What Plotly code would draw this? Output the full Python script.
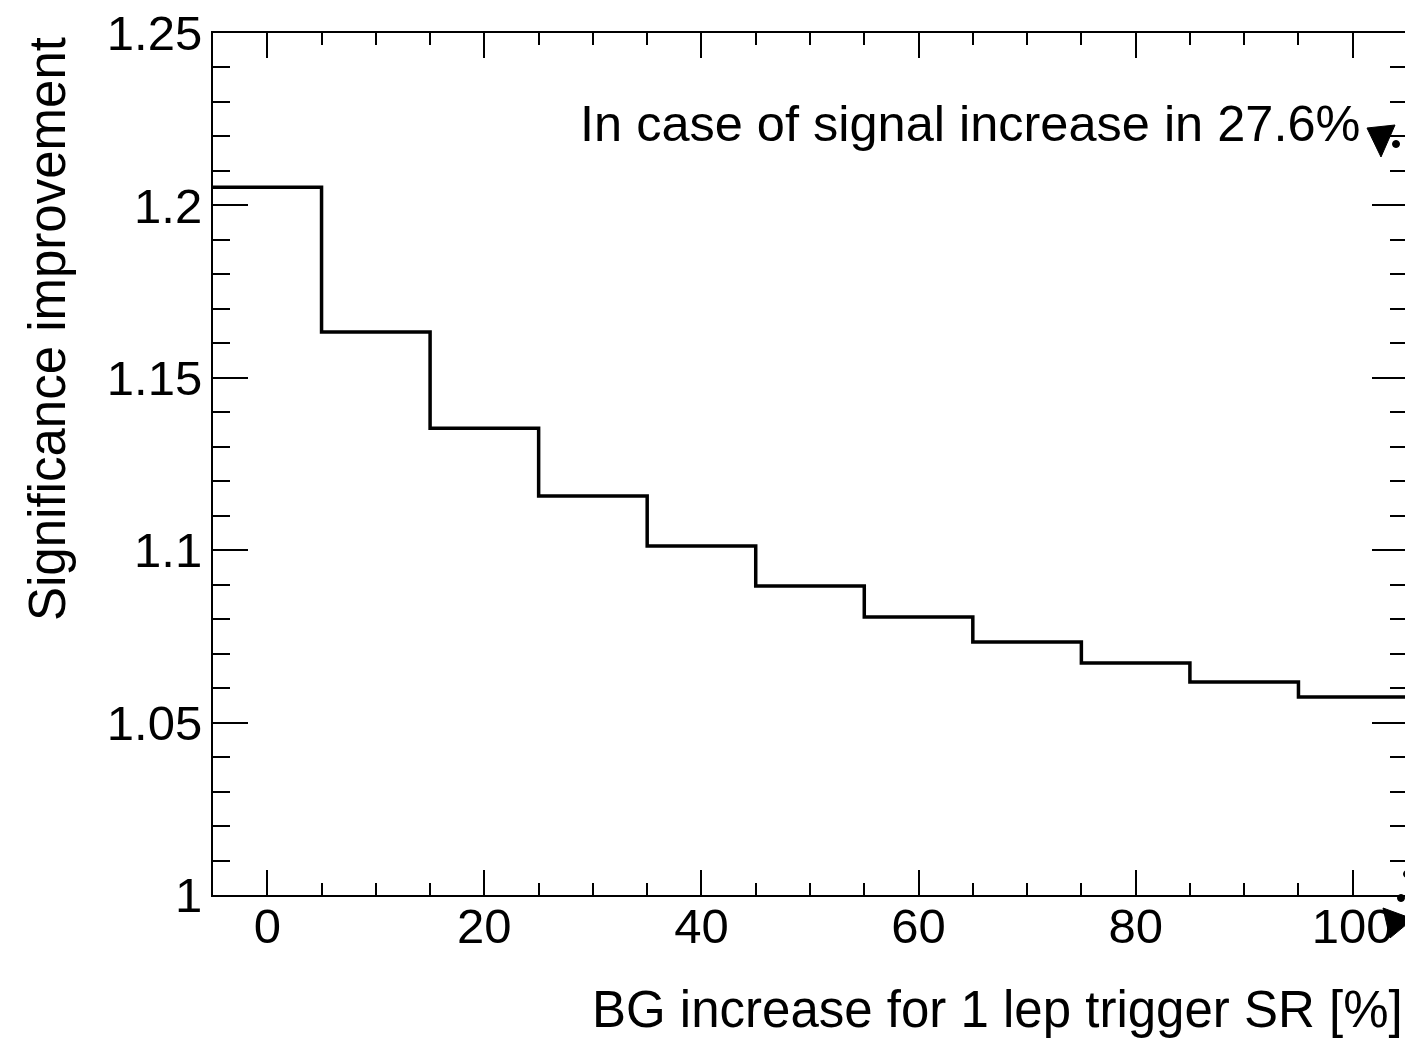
import plotly.graph_objects as go

# ---- data ----
bin_centers = [0, 10, 20, 30, 40, 50, 60, 70, 80, 90, 100]
bin_width = 10
significance = [1.2053, 1.1633, 1.1354, 1.1157, 1.1012, 1.0896, 1.0806, 1.0734, 1.0673, 1.0618, 1.0574]
x_range = [-5, 105]
y_range = [1.0, 1.25]
x_tickvals = [0, 20, 40, 60, 80, 100]
y_tickvals = [1.0, 1.05, 1.1, 1.15, 1.2, 1.25]
y_ticktext = ["1", "1.05", "1.1", "1.15", "1.2", "1.25"]
x_title = "BG increase for 1 lep trigger SR [%]"
y_title = "Significance improvement"
note = "In case of signal increase in 27.6%"

# page offset (default body margin) compensation
OFF = 8
W, H = 1413 - OFF, 1039 - OFF
L, R, T, B = 213 - OFF, 6, 33 - OFF, 144
FONT = "Liberation Sans, Arial, Helvetica, sans-serif"

# histogram step outline (edges at bin boundaries)
xs = [bin_centers[0] - bin_width / 2] + bin_centers + [bin_centers[-1] + bin_width / 2]
ys = [significance[0]] + significance + [significance[-1]]

fig = go.Figure()
fig.add_trace(go.Scatter(x=xs, y=ys, mode="lines", line=dict(color="black", width=3.5, shape="hvh"),
                         showlegend=False, hoverinfo="skip", cliponaxis=False))

pw = W - L - R
ph = H - T - B


def px2paper(px, py):
    # px, py are screen pixels in the reference picture
    return (px - OFF - L) / pw, (H - B - (py - OFF)) / ph


# stray ROOT marker decorations
tri_top = [(1367, 128), (1395, 125), (1381, 157)]
tri_bot = [(1383, 908), (1413, 919), (1390, 938)]
dots = [(1396, 144), (1401, 898), (1407, 874), (1410, 852)]

shapes = []
for tri in (tri_top, tri_bot):
    pts = [px2paper(*p) for p in tri]
    path = "M " + " L ".join(f"{a:.5f},{b:.5f}" for a, b in pts) + " Z"
    shapes.append(dict(type="path", path=path, xref="paper", yref="paper",
                       fillcolor="black", line=dict(color="black", width=1), layer="above"))
for (dx, dy) in dots:
    x0, y0 = px2paper(dx - 3.5, dy + 3.5)
    x1, y1 = px2paper(dx + 3.5, dy - 3.5)
    shapes.append(dict(type="circle", xref="paper", yref="paper", x0=x0, y0=y0, x1=x1, y1=y1,
                       fillcolor="black", line=dict(color="black", width=1), layer="above"))

axis_common = dict(showgrid=False, zeroline=False, showline=True, linecolor="black", linewidth=2,
                   mirror="ticks", ticks="inside", tickcolor="black", tickwidth=2,
                   ticklabeloverflow="allow", automargin=False,
                   tickfont=dict(family=FONT, size=49, color="black"))

xt = px2paper(1405, 1010)
yt = px2paper(48, 35)
nt = px2paper(578, 124)

fig.update_layout(
    width=W, height=H,
    margin=dict(l=L, r=R, t=T, b=B, pad=0, autoexpand=False),
    paper_bgcolor="white", plot_bgcolor="white",
    showlegend=False,
    xaxis=dict(range=x_range, tickvals=x_tickvals, ticklen=25,
               minor=dict(dtick=5, tick0=0, ticklen=12, ticks="inside", tickcolor="black", tickwidth=2,
                          showgrid=False),
               ticklabelstandoff=-13, **axis_common),
    yaxis=dict(range=y_range, tickvals=y_tickvals, ticktext=y_ticktext, ticklen=35,
               minor=dict(dtick=0.01, tick0=1.0, ticklen=17, ticks="inside", tickcolor="black", tickwidth=2,
                          showgrid=False),
               ticklabelstandoff=-1, **axis_common),
    shapes=shapes,
    annotations=[
        dict(text=x_title, xref="paper", yref="paper", x=xt[0], y=xt[1],
             xanchor="right", yanchor="middle", showarrow=False,
             font=dict(family=FONT, size=51, color="black")),
        dict(text=y_title, xref="paper", yref="paper", x=yt[0], y=yt[1],
             xanchor="center", yanchor="top", textangle=-90, showarrow=False,
             font=dict(family=FONT, size=51, color="black")),
        dict(text=note, xref="paper", yref="paper", x=nt[0], y=nt[1],
             xanchor="left", yanchor="middle", showarrow=False,
             font=dict(family=FONT, size=50.5, color="black")),
    ],
)

fig.write_html("out.html")
